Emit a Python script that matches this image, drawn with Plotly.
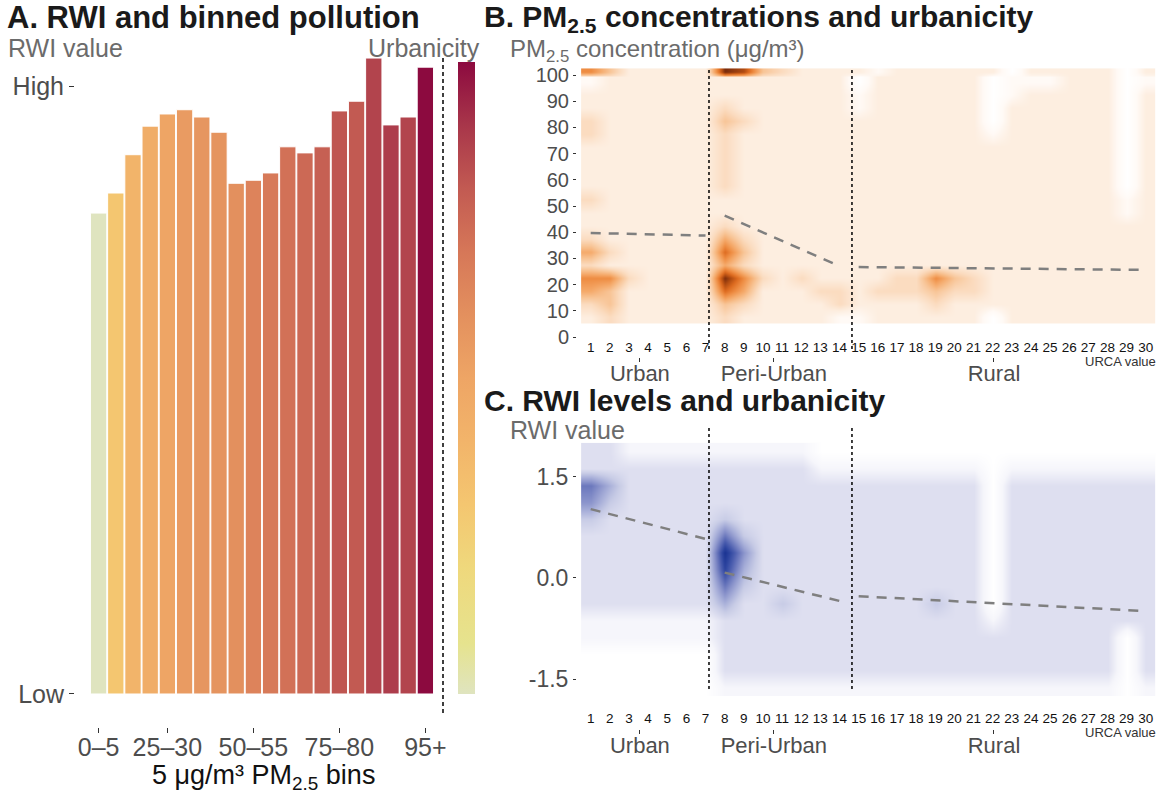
import plotly.graph_objects as go

W, H = 1159, 795
FONT = "Liberation Sans, Arial, sans-serif"
GREY_TXT = "#6b6b6b"
TICK_TXT = "#4d4d4d"

# ---------------- Panel A: RWI by 5 ug/m3 PM2.5 bin ----------------
pm_bins = ["0–5", "5–10", "10–15", "15–20", "20–25", "25–30", "30–35", "35–40",
           "40–45", "45–50", "50–55", "55–60", "60–65", "65–70", "70–75",
           "75–80", "80–85", "85–90", "90–95", "95+"]
bin_tick_pos = [1, 5, 10, 15, 20]
bin_tick_text = ["0–5", "25–30", "50–55", "75–80", "95+"]
# mean RWI per bin on a 0 (Low) .. 1 (High) scale
rwi_by_bin = [0.791, 0.824, 0.887, 0.934, 0.954, 0.961, 0.949, 0.924, 0.840, 0.845,
              0.857, 0.900, 0.890, 0.900, 0.959, 0.975, 1.046, 0.936, 0.949, 1.031]
# mean urbanicity per bin (0 = least urban, 1 = most urban)
urban_by_bin = [0.0, 0.30, 0.40, 0.45, 0.50, 0.55, 0.57, 0.58, 0.60, 0.65,
                0.69, 0.72, 0.75, 0.78, 0.81, 0.80, 0.86, 0.88, 0.86, 1.0]

urban_scale = [[0.0, "#dfe4bf"], [0.08, "#e6e38e"], [0.2, "#efd87c"], [0.3, "#f4c670"],
               [0.4, "#f2b46a"], [0.5, "#eea565"], [0.6, "#e3905e"], [0.7, "#d67758"],
               [0.8, "#c25a52"], [0.9, "#a8364a"], [1.0, "#8c0a3f"]]

# ---------------- Panels B & C: density by URCA class ----------------
urca = list(range(1, 31))
pm_edges = [5, 10, 15, 20, 25, 30, 35, 40, 45, 50, 55, 60, 65, 70, 75, 80, 85, 90, 95, 99, 100, 102.5]
# density intensity 0 (none) .. 9 (max); one string per PM2.5 band, top band first, URCA 1..30
pm_density = [
    "642222298432222122222202222202",  # 100-102.5
    "122222222222220222222011122201",  # 99-100
    "122222222222220222222011122201",  # 95-99
    "222222222222221222222012222202",  # 90-95
    "222222232222221222222022222202",  # 85-90
    "322222243222222222222022222202",  # 80-85
    "322222232222222222222122222202",  # 75-80
    "222222232222222222222222222202",  # 70-75
    "222222232222222222222222222202",  # 65-70
    "222222232222222222222222222202",  # 60-65
    "222222232222222222222222222202",  # 55-60
    "322222222222222222222222222212",  # 50-55
    "222222222222222222222222222212",  # 45-50
    "222222232222222222222222222222",  # 40-45
    "322222253222222222222222222222",  # 35-40
    "532222274222222222222222222222",  # 30-35
    "322222253222222222222222222222",  # 25-30
    "663222296323222233643222222222",  # 20-25
    "542222275222332333433222222222",  # 15-20
    "342222243222232222322222222222",  # 10-15
    "232222232222211222222022222222",  # 5-10
]
rwi_edges = [-1.75, -1.5, -1.25, -1.0, -0.75, -0.5, -0.25, 0.0, 0.25, 0.5, 0.75, 1.0, 1.25, 1.5, 1.75, 2.0]
rwi_density = [
    "221111111111000000000000000000",  # 1.75-2.0
    "222222222222111111111011111111",  # 1.5-1.75
    "642222222222222222222022222222",  # 1.25-1.5
    "532222222222222222222022222222",  # 1.0-1.25
    "322222232222222222222022222222",  # 0.75-1.0
    "222222263222222222222022222222",  # 0.5-0.75
    "222222295222222222222022222222",  # 0.25-0.5
    "222222284222222222222022222222",  # 0.0-0.25
    "222222263222222222222022222222",  # -0.25-0.0
    "222222242232222222322022222222",  # -0.5--0.25
    "111111122222222222222122222222",  # -0.75--0.5
    "111111122222222222222222222202",  # -1.0--0.75
    "000000022222222222222222222202",  # -1.25--1.0
    "000000022222222222222222222202",  # -1.5--1.25
    "000000011111111111111111111101",  # -1.75--1.5
]

pm_trend = {"Urban": ([1, 7], [39.7, 38.7]),
            "Peri-Urban": ([8, 14], [46.3, 27.1]),
            "Rural": ([15, 30], [26.7, 25.6])}
rwi_trend = {"Urban": ([1, 7], [1.02, 0.58]),
             "Peri-Urban": ([8, 14], [0.08, -0.34]),
             "Rural": ([15, 30], [-0.27, -0.49])}

class_names = ["Urban", "Peri-Urban", "Rural"]
class_pos = [3.57, 10.57, 22.07]
class_breaks = [7.18, 14.65]

pm_ticks = [0, 10, 20, 30, 40, 50, 60, 70, 80, 90, 100]
rwi_ticks = [-1.5, 0.0, 1.5]
rwi_tick_text = ["-1.5", "0.0", "1.5"]

orange_scale = [[0.0, "#ffffff"], [1/9, "#fffaf6"], [2/9, "#fdeee0"], [3/9, "#fbdcc0"],
                [4/9, "#f8c597"], [5/9, "#f5aa6b"], [6/9, "#ee8c42"], [7/9, "#dd6b20"],
                [8/9, "#b14c12"], [1.0, "#7a2c0c"]]
blue_scale = [[0.0, "#ffffff"], [1/9, "#f6f6fb"], [2/9, "#dedff0"], [3/9, "#c8cce6"],
              [4/9, "#aab1da"], [5/9, "#8c95cc"], [6/9, "#6b78bd"], [7/9, "#4a5cae"],
              [8/9, "#2e45a0"], [1.0, "#1a3392"]]


def px_x(p):
    return p / W


def px_y(p):
    return 1 - p / H


def grid(rows):
    return [[int(c) for c in r] for r in reversed(rows)]


x_edges = [u - 0.5 for u in urca] + [urca[-1] + 0.5]

fig = go.Figure()

fig.add_trace(go.Bar(
    x=list(range(1, len(pm_bins) + 1)), y=rwi_by_bin, width=0.95,
    customdata=pm_bins,
    marker=dict(color=urban_by_bin, colorscale=urban_scale, cmin=0, cmax=1,
                line=dict(color="white", width=1),
                showscale=True,
                colorbar=dict(x=px_x(458), xanchor="left", y=px_y(378), yanchor="middle",
                              len=632, lenmode="pixels", thickness=17, thicknessmode="pixels",
                              outlinewidth=0, showticklabels=False, ticks="", xpad=0, ypad=0)),
    xaxis="x", yaxis="y", showlegend=False))

fig.add_trace(go.Heatmap(
    x=x_edges, y=pm_edges, z=grid(pm_density), zmin=0, zmax=9,
    colorscale=orange_scale, zsmooth="best", showscale=False,
    xaxis="x2", yaxis="y2"))
fig.add_trace(go.Heatmap(
    x=x_edges, y=rwi_edges, z=grid(rwi_density), zmin=0, zmax=9,
    colorscale=blue_scale, zsmooth="best", showscale=False,
    xaxis="x3", yaxis="y3"))

dash_line = dict(color="#7f7f7f", width=2.5, dash="10px,8px")
for name in class_names:
    xs, ys = pm_trend[name]
    fig.add_trace(go.Scatter(x=xs, y=ys, mode="lines", line=dash_line,
                             xaxis="x2", yaxis="y2", showlegend=False))
    xs, ys = rwi_trend[name]
    fig.add_trace(go.Scatter(x=xs, y=ys, mode="lines", line=dash_line,
                             xaxis="x3", yaxis="y3", showlegend=False))

# empty traces so the urbanicity class axes get drawn
for xa, ya in (("x4", "y2"), ("x5", "y3")):
    fig.add_trace(go.Scatter(x=class_pos, y=[None] * len(class_pos), mode="markers",
                             xaxis=xa, yaxis=ya, hoverinfo="skip", showlegend=False))

# axis geometry
a_dom_x = [px_x(75), px_x(451)]
a_dom_y = [px_y(727), px_y(55)]
bc_dom_x = [px_x(577), px_x(1157)]
b_dom_y = [px_y(340), px_y(62)]
c_dom_y = [px_y(711), px_y(436)]
urca_range = [0.284, 30.587]

common = dict(showgrid=False, zeroline=False, showline=False)
urca_font = dict(size=13.5, color="#111111")
class_font = dict(size=22, color=TICK_TXT)

fig.update_layout(
    width=W, height=H, margin=dict(l=0, r=0, t=0, b=0, autoexpand=False),
    paper_bgcolor="white", plot_bgcolor="white",
    font=dict(family=FONT, color=TICK_TXT),
    showlegend=False,
    xaxis=dict(domain=a_dom_x, range=[-0.372, 21.49], anchor="y",
               tickvals=bin_tick_pos, ticktext=bin_tick_text,
               ticks="outside", ticklen=5, tickwidth=1, tickcolor="#333333",
               ticklabelstandoff=-7,
               tickfont=dict(size=25, color=TICK_TXT), **common),
    yaxis=dict(domain=a_dom_y, range=[-0.0543, 1.051], anchor="x",
               tickvals=[0, 1], ticktext=["Low", "High"],
               ticks="outside", ticklen=5, tickwidth=1, tickcolor="#333333",
               tickfont=dict(size=25, color=TICK_TXT), **common),
    xaxis2=dict(domain=bc_dom_x, range=urca_range, anchor="y2",
                tickvals=urca, ticks="", ticklabelstandoff=-3, tickfont=urca_font, **common),
    yaxis2=dict(domain=b_dom_y, range=[-1.145, 104.96], anchor="x2",
                tickvals=pm_ticks, ticks="outside", ticklen=3, tickcolor="#333333",
                tickfont=dict(size=20, color=TICK_TXT), **common),
    xaxis3=dict(domain=bc_dom_x, range=urca_range, anchor="y3",
                tickvals=urca, ticks="", ticklabelstandoff=-3, tickfont=urca_font, **common),
    yaxis3=dict(domain=c_dom_y, range=[-1.97, 2.103], anchor="x3",
                tickvals=rwi_ticks, ticktext=rwi_tick_text,
                ticks="outside", ticklen=3, tickcolor="#333333",
                tickfont=dict(size=23, color=TICK_TXT), **common),
    xaxis4=dict(overlaying="x2", anchor="free", position=px_y(357), range=urca_range,
                tickvals=class_pos, ticktext=class_names, ticks="outside", ticklen=4,
                ticklabelstandoff=-7,
                tickcolor="#333333", tickfont=class_font, **common),
    xaxis5=dict(overlaying="x3", anchor="free", position=px_y(729), range=urca_range,
                tickvals=class_pos, ticktext=class_names, ticks="outside", ticklen=4,
                ticklabelstandoff=-7,
                tickcolor="#333333", tickfont=class_font, **common),
)

# boundaries between urbanicity classes
for xb in class_breaks:
    fig.add_shape(type="line", xref="x2", yref="paper", x0=xb, x1=xb,
                  y0=px_y(70), y1=px_y(352), line=dict(color="black", width=1.5, dash="dot"))
    fig.add_shape(type="line", xref="x3", yref="paper", x0=xb, x1=xb,
                  y0=px_y(428), y1=px_y(692), line=dict(color="black", width=1.5, dash="dot"))
# separator between bars and the urbanicity scale
fig.add_shape(type="line", xref="paper", yref="paper", x0=px_x(443), x1=px_x(443),
              y0=px_y(58), y1=px_y(713), line=dict(color="black", width=1.5, dash="4px,3px"))


def label(text, x, y, size, color, bold=False, xanchor="left"):
    fig.add_annotation(text=f"<b>{text}</b>" if bold else text, xref="paper", yref="paper",
                       x=px_x(x), y=px_y(y), xanchor=xanchor, yanchor="middle",
                       showarrow=False, font=dict(size=size, color=color, family=FONT))


label("A. RWI and binned pollution", 5, 18, 31, "#1a1a1a", bold=True)
label("B. PM<sub>2.5</sub> concentrations and urbanicity", 482, 19, 30, "#1a1a1a", bold=True)
label("C. RWI levels and urbanicity", 482, 400, 30, "#1a1a1a", bold=True)
label("RWI value", 6, 48, 25, GREY_TXT)
label("Urbanicity", 482, 48, 25, GREY_TXT, xanchor="right")
label("PM<sub>2.5</sub> concentration (μg/m³)", 508, 51, 24, GREY_TXT)
label("RWI value", 508, 430, 25, GREY_TXT)
label("URCA value", 1158, 361, 13, "#333333", xanchor="right")
label("URCA value", 1158, 732, 13, "#333333", xanchor="right")
label("5 μg/m³ PM<sub>2.5</sub> bins", 263, 777, 27, "#111111", xanchor="center")

fig.write_html("out.html")
